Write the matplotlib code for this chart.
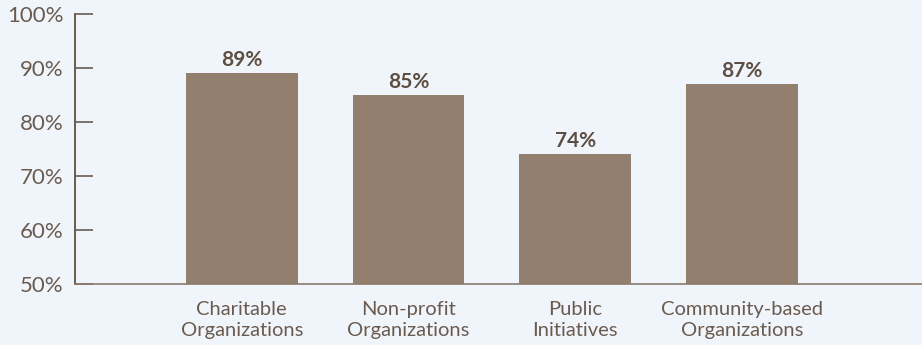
import matplotlib
matplotlib.use('Agg')
import matplotlib.pyplot as plt
from matplotlib.ticker import FuncFormatter

categories = ['Charitable\nOrganizations', 'Non-profit\nOrganizations',
              'Public\nInitiatives', 'Community-based\nOrganizations']
values = [89, 85, 74, 87]
yticks = [50, 60, 70, 80, 90, 100]

bg = '#f0f5fc'
bar_color = '#937f6e'
text_color = '#5e4e41'

plt.rcParams['font.family'] = ['Lato', 'DejaVu Sans']

fig = plt.figure(figsize=(9.22, 3.45), dpi=100, facecolor=bg)
ax = fig.add_axes([75/922, 61/345, 1 - 75/922, 270/345])
ax.set_facecolor(bg)

x = list(range(len(values)))
ax.bar(x, values, width=0.67, color=bar_color, bottom=0)

for xi, v in zip(x, values):
    ax.text(xi, v + 0.6, '{}%'.format(v), ha='center', va='bottom',
            fontsize=15, fontweight='bold', color=text_color)

ax.set_ylim(50, 100)
ax.set_xlim(-1.0, 4.08)
ax.set_yticks(yticks)
ax.yaxis.set_major_formatter(FuncFormatter(lambda v, p: '{:.0f}%'.format(v)))
ax.set_xticks(x)
ax.set_xticklabels(categories, fontsize=14.5, color='#6b5b4e', linespacing=1.3)

ax.tick_params(axis='y', direction='in', length=13, width=1.2, color='#6b5b4e',
               labelsize=16, labelcolor='#6b5b4e', pad=8)
ax.tick_params(axis='x', length=0, pad=12)

for side in ['top', 'right']:
    ax.spines[side].set_visible(False)
ax.spines['left'].set_color('#6b5b4e')
ax.spines['left'].set_linewidth(1.4)
ax.spines['bottom'].set_color('#8a7b6e')
ax.spines['bottom'].set_linewidth(1.2)

plt.savefig('out.png', dpi=100, facecolor=bg)
